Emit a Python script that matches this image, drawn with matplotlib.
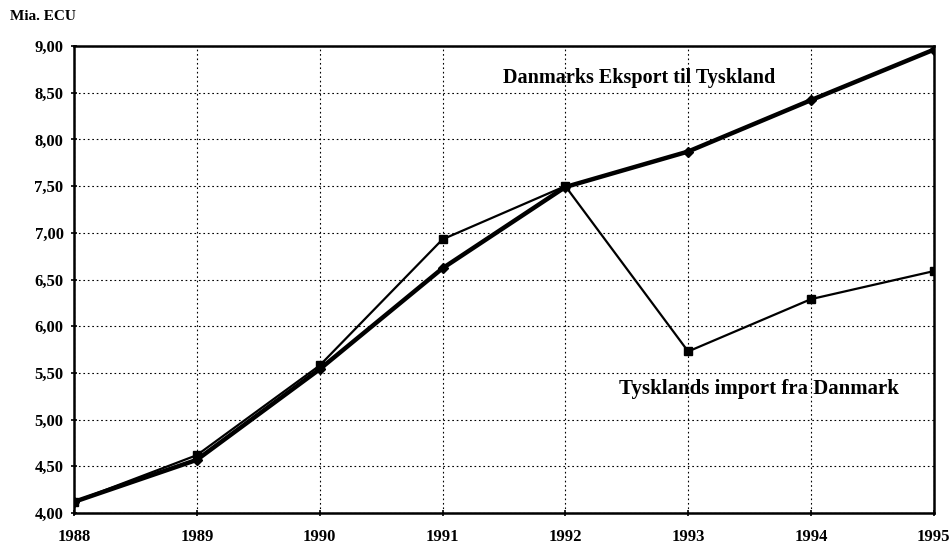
import matplotlib.pyplot as plt
import matplotlib.ticker as ticker

years = [1988, 1989, 1990, 1991, 1992, 1993, 1994, 1995]
dk_export = [4.12, 4.57, 5.54, 6.62, 7.49, 7.87, 8.42, 8.96]
de_import = [4.12, 4.62, 5.58, 6.93, 7.50, 5.73, 6.29, 6.59]
y_ticks = [4.0, 4.5, 5.0, 5.5, 6.0, 6.5, 7.0, 7.5, 8.0, 8.5, 9.0]


def comma_fmt(x, pos):
    """Danish decimal comma"""
    return f'{x:.2f}'.replace('.', ',')


def main():
    plt.rcParams['font.family'] = ['Liberation Serif', 'DejaVu Serif']
    fig = plt.figure(figsize=(9.49, 5.47), dpi=100)
    ax = fig.add_axes([0.078, 0.062, 0.906, 0.854])

    ax.plot(years, dk_export, color='black', linewidth=3.2,
            marker='D', markersize=5, zorder=3)
    ax.plot(years, de_import, color='black', linewidth=1.6,
            marker='s', markersize=6, zorder=3)

    ax.set_xlim(1988, 1995)
    ax.set_ylim(4.0, 9.0)
    ax.set_xticks(years)
    ax.set_yticks(y_ticks)
    ax.yaxis.set_major_formatter(ticker.FuncFormatter(comma_fmt))
    ax.tick_params(axis='both', labelsize=12, direction='inout',
                   length=5, width=1.2, colors='black')
    ax.tick_params(axis='x', pad=9)
    ax.tick_params(axis='y', pad=5)
    for lab in ax.get_xticklabels() + ax.get_yticklabels():
        lab.set_fontweight('bold')

    ax.grid(True, color='black', linestyle=(0, (1.5, 2.5)), linewidth=0.8)
    for side in ax.spines.values():
        side.set_linewidth(1.8)
        side.set_color('black')

    ax.text(-0.075, 1.05, 'Mia. ECU', transform=ax.transAxes,
            fontsize=11, fontweight='bold', ha='left', va='bottom')
    ax.text(1992.6, 8.66, 'Danmarks Eksport til Tyskland',
            fontsize=14.5, fontweight='bold', ha='center', va='center')
    ax.text(1993.58, 5.33, 'Tysklands import fra Danmark',
            fontsize=15, fontweight='bold', ha='center', va='center')

    fig.savefig('out.png', dpi=100)


if __name__ == "__main__":
    main()
